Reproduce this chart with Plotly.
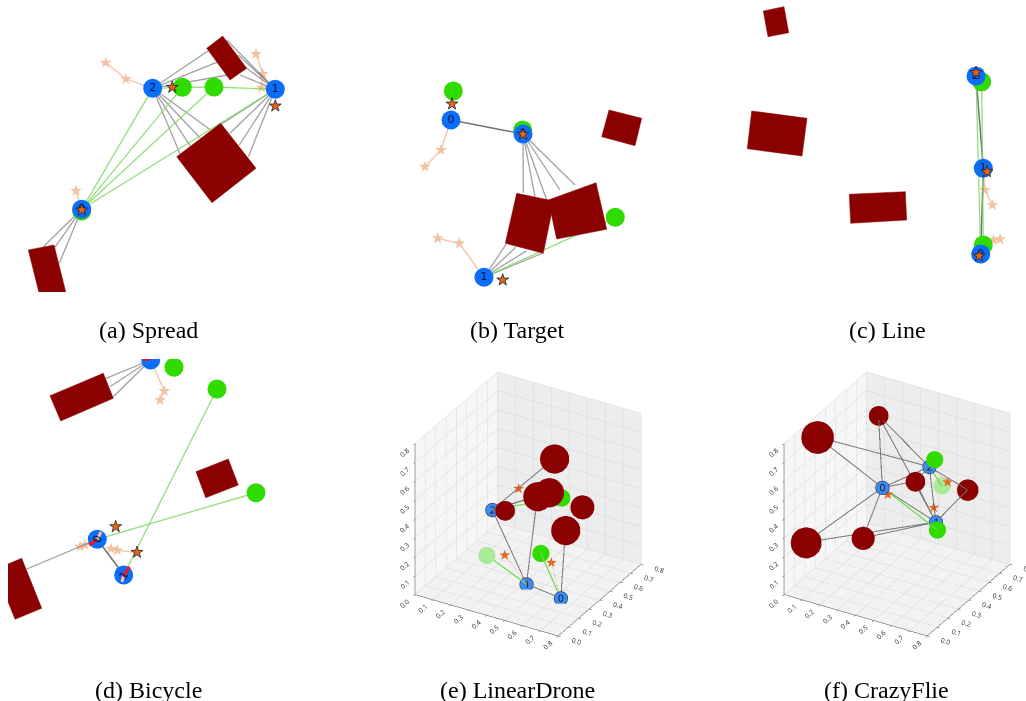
import plotly.graph_objects as go

W, H = 1026, 701
PX = 100.0  # screen pixels per world unit in the flat scenes

AGENT_BLUE = "#0a6efa"
GOAL_GREEN = "#30dc00"
OBST_RED = "#8b0000"
STAR_ORANGE = "#e4641c"
TRAIL_PEACH = "#f3c2a3"
RAY_GREY = "rgba(110,110,110,0.65)"
LINK_GREY = "rgba(90,90,90,0.85)"
LINK_GREEN = "rgba(120,215,90,0.8)"
HEAD_RED = "#ff1010"

# ---------------- (a) Spread ----------------
a_agents_x = [-0.833, 1.103, -0.123]
a_agents_y = [-0.633, 0.567, 0.577]
a_goals_x = [-0.833, 0.173, 0.490]
a_goals_y = [-0.650, 0.587, 0.590]
a_stars_x = [-0.833, 1.103, 0.073]
a_stars_y = [-0.640, 0.400, 0.587]
a_obstacles = [
    [(0.417, 0.977), (0.577, 1.100), (0.817, 0.777), (0.650, 0.660)],
    [(0.117, -0.107), (0.557, 0.227), (0.910, -0.223), (0.470, -0.567)],
    [(-1.367, -1.040), (-1.110, -0.990), (-0.960, -1.590), (-1.217, -1.640)],
]
a_rays = {
    0: [(-1.217, -1.007), (-1.110, -1.023), (-1.057, -1.173)],
    1: [(0.617, 1.060), (0.733, 0.910), (0.817, 0.777), (0.750, 0.710),
        (0.567, 0.220), (0.650, 0.127), (0.743, 0.010), (0.833, -0.107)],
    2: [(0.433, 0.953), (0.533, 0.843), (0.683, 0.720), (0.150, -0.080),
        (0.250, 0.003), (0.350, 0.083), (0.457, 0.160)],
}
a_trails = [
    ([(-0.890, -0.447)], ("A", 0)),
    ([(0.910, 0.920), (0.977, 0.720), (0.967, 0.583)], ("A", 1)),
    ([(-0.593, 0.833), (-0.390, 0.670)], ("A", 2)),
]
a_grey_links = []
a_green_links = [(("A", 0), ("A", 2)), (("A", 0), ("G", 1)), (("A", 0), ("G", 2)),
                 (("A", 0), ("A", 1)), (("A", 2), ("G", 1)), (("G", 1), ("G", 2)),
                 (("G", 2), ("A", 1))]

# ---------------- (b) Target ----------------
b_agents_x = [-0.620, -0.290, 0.100]
b_agents_y = [0.300, -1.273, 0.160]
b_goals_x = [-0.597, 0.097, 1.023]
b_goals_y = [0.590, 0.200, -0.673]
b_stars_x = [-0.610, -0.103, 0.100]
b_stars_y = [0.460, -1.300, 0.157]
b_obstacles = [
    [(0.960, 0.400), (1.287, 0.317), (1.220, 0.043), (0.887, 0.133)],
    [(0.037, -0.433), (0.410, -0.510), (0.303, -1.033), (-0.077, -0.933)],
    [(0.353, -0.500), (0.830, -0.327), (0.937, -0.793), (0.437, -0.890)],
]
b_rays = {
    1: [(-0.070, -0.943), (0.027, -0.973), (0.137, -1.007), (0.293, -1.033)],
    2: [(0.103, -0.427), (0.220, -0.467), (0.337, -0.500), (0.470, -0.400), (0.620, -0.350)],
}
b_trails = [
    ([(-0.880, -0.167), (-0.720, 0.000)], ("A", 0)),
    ([(-0.753, -0.883), (-0.537, -0.933)], ("A", 1)),
]
b_grey_links = [(("A", 0), ("A", 2))]
b_green_links = [(("A", 1), ("G", 2))]

# ---------------- (c) Line ----------------
c_agents_x = [1.257, 1.283, 1.210]
c_agents_y = [-1.040, -0.183, 0.740]
c_goals_x = [1.283, 1.267]
c_goals_y = [-0.950, 0.683]
c_stars_x = [1.240, 1.320, 1.210]
c_stars_y = [-1.060, -0.217, 0.773]
c_obstacles = [
    [(-0.917, 1.390), (-0.710, 1.433), (-0.663, 1.173), (-0.870, 1.133)],
    [(-1.033, 0.390), (-0.480, 0.317), (-0.530, -0.060), (-1.077, 0.013)],
    [(-0.057, -0.443), (0.503, -0.417), (0.517, -0.700), (-0.043, -0.733)],
]
c_rays = {}
c_trails = [
    ([(1.450, -0.893), (1.383, -0.900)], ("A", 0)),
    ([(1.373, -0.550), (1.300, -0.400)], ("A", 1)),
]
c_grey_links = [(("A", 2), ("A", 1)), (("A", 1), ("A", 0))]
c_green_links = [(("G", 1), ("G", 0)), (("A", 2), ("A", 0))]

# ---------------- (d) Bicycle ----------------
d_agents_x = [-0.707, -0.443, -0.173]
d_agents_y = [-0.343, -0.700, 1.450]
d_goals_x = [0.060, 0.490, 0.880]
d_goals_y = [1.377, 1.160, 0.123]
d_stars_x = [-0.523, -0.310]
d_stars_y = [-0.217, -0.473]
d_obstacles = [
    [(-1.180, 1.093), (-0.647, 1.317), (-0.547, 1.067), (-1.073, 0.840)],
    [(0.280, 0.333), (0.603, 0.460), (0.703, 0.200), (0.377, 0.073)],
    [(-1.730, -0.643), (-1.463, -0.533), (-1.263, -1.033), (-1.530, -1.143)],
]
d_rays = {
    0: [(-1.413, -0.640)],
    2: [(-0.620, 1.267), (-0.580, 1.183), (-0.547, 1.083)],
}
d_trails = [
    ([(-0.880, -0.417), (-0.830, -0.400)], ("A", 0)),
    ([(-0.570, -0.437), (-0.507, -0.453)], ("S", 1)),
    ([(-0.080, 1.050), (-0.037, 1.140)], ("A", 2)),
    ([], ("S", 0)),
]
d_grey_links = [(("A", 0), ("A", 1))]
d_green_links = [(("A", 1), ("G", 1)), (("A", 0), ("G", 2))]
d_heading_tail_x = [-0.787, -0.447, -0.247]
d_heading_tail_y = [-0.400, -0.717, 1.450]
d_heading_tip_x = [-0.707, -0.387, -0.173]
d_heading_tip_y = [-0.343, -0.617, 1.470]
d_wheel_tip_x = [-0.670, -0.460]
d_wheel_tip_y = [-0.270, -0.770]
d_label_angle = [-65, -60]

# ---------------- (e) LinearDrone (3-D) ----------------
e_agents = {"x": [0.646, 0.434, 0.187], "y": [0.291, 0.326, 0.423], "z": [0.02, 0.02, 0.30]}
e_obst = {"x": [0.489, 0.453, 0.489, 0.300, 0.587, 0.609],
          "y": [0.500, 0.400, 0.450, 0.350, 0.600, 0.400],
          "z": [0.618, 0.456, 0.463, 0.362, 0.341, 0.319],
          "size": [34, 34, 34, 23, 28, 34]}
e_goals = {"x": [0.463, 0.246, 0.465], "y": [0.414, 0.267, 0.613], "z": [0.15, 0.15, 0.35]}
e_goal_faded = [False, True, False]
e_stars = {"x": [0.522, 0.318, 0.301], "y": [0.413, 0.315, 0.479], "z": [0.12, 0.15, 0.42]}
e_grey_links = [("A", 2, "O", 0), ("A", 2, "O", 1), ("A", 2, "O", 2), ("A", 2, "O", 3),
                ("A", 2, "A", 1), ("A", 1, "O", 1), ("A", 0, "O", 5), ("A", 0, "A", 1)]
e_green_links = [("A", 1, "G", 1), ("A", 0, "G", 0), ("A", 2, "G", 2)]
e_star_trails = [("S", 0, "A", 0), ("S", 1, "A", 1)]

# ---------------- (f) CrazyFlie (3-D) ----------------
f_agents = {"x": [0.347, 0.588, 0.494], "y": [0.350, 0.450, 0.550], "z": [0.496, 0.332, 0.552]}
f_obst = {"x": [0.070, 0.181, 0.473, 0.609, 0.093, 0.354],
          "y": [0.200, 0.600, 0.450, 0.720, 0.050, 0.150],
          "z": [0.760, 0.714, 0.516, 0.381, 0.279, 0.326],
          "size": [38, 23, 23, 25, 36, 27]}
f_goals = {"x": [0.523, 0.535, 0.625], "y": [0.550, 0.600, 0.400], "z": [0.599, 0.440, 0.325]}
f_goal_faded = [False, True, False]
f_stars = {"x": [0.377, 0.566, 0.547], "y": [0.350, 0.600, 0.500], "z": [0.471, 0.470, 0.377]}
f_grey_links = [("A", 0, "O", 0), ("A", 0, "O", 4), ("A", 0, "O", 5), ("A", 0, "O", 2),
                ("A", 0, "O", 1), ("A", 0, "A", 2), ("A", 0, "A", 1), ("A", 2, "O", 0),
                ("A", 2, "O", 1), ("A", 2, "O", 3), ("A", 2, "O", 2), ("A", 2, "A", 1),
                ("A", 1, "O", 3), ("A", 1, "O", 5), ("A", 1, "O", 2), ("A", 1, "O", 1),
                ("A", 1, "O", 4)]
f_green_links = [("A", 0, "G", 2), ("A", 2, "G", 0), ("A", 2, "G", 1)]
f_star_trails = [("S", 1, "A", 2), ("S", 2, "A", 1)]

captions = ["(a) Spread", "(b) Target", "(c) Line", "(d) Bicycle", "(e) LinearDrone", "(f) CrazyFlie"]
caption_x = [148, 517, 887, 148, 517, 886]
caption_y = [330, 330, 330, 690, 690, 690]

fig = go.Figure()


def point(d, r):
    kind, i = r
    keys = {"A": ("ax", "ay"), "G": ("gx", "gy"), "S": ("sx", "sy")}[kind]
    return d[keys[0]][i], d[keys[1]][i]


def segments(pairs):
    xs, ys = [], []
    for (x0, y0), (x1, y1) in pairs:
        xs += [x0, x1, None]
        ys += [y0, y1, None]
    return xs, ys


def flat_panel(k, d):
    xr, yr = ("x" if k == 1 else f"x{k}"), ("y" if k == 1 else f"y{k}")
    common = dict(xaxis=xr, yaxis=yr, showlegend=False, hoverinfo="skip")

    # star trails
    for pts, end in d["trails"]:
        path = pts + [point(d, end)]
        fig.add_trace(go.Scatter(x=[p[0] for p in path], y=[p[1] for p in path], mode="lines",
                                 line=dict(color=TRAIL_PEACH, width=1.3), **common))
        if pts:
            fig.add_trace(go.Scatter(x=[p[0] for p in pts], y=[p[1] for p in pts], mode="markers",
                                     marker=dict(symbol="star", size=9, color=TRAIL_PEACH), **common))
    # sensing rays and graph edges
    ray_pairs = [((d["ax"][i], d["ay"][i]), e) for i, ends in d["rays"].items() for e in ends]
    if ray_pairs:
        xs, ys = segments(ray_pairs)
        fig.add_trace(go.Scatter(x=xs, y=ys, mode="lines", line=dict(color=RAY_GREY, width=1.3), **common))
    if d["grey"]:
        xs, ys = segments([(point(d, p), point(d, q)) for p, q in d["grey"]])
        fig.add_trace(go.Scatter(x=xs, y=ys, mode="lines", line=dict(color=LINK_GREY, width=1.5), **common))
    if d["green"]:
        xs, ys = segments([(point(d, p), point(d, q)) for p, q in d["green"]])
        fig.add_trace(go.Scatter(x=xs, y=ys, mode="lines", line=dict(color=LINK_GREEN, width=1.3), **common))
    # obstacles
    for poly in d["obst"]:
        fig.add_trace(go.Scatter(x=[p[0] for p in poly] + [poly[0][0]],
                                 y=[p[1] for p in poly] + [poly[0][1]],
                                 mode="lines", fill="toself", fillcolor=OBST_RED,
                                 line=dict(color=OBST_RED, width=0.5), **common))
    # goals
    fig.add_trace(go.Scatter(x=d["gx"], y=d["gy"], mode="markers",
                             marker=dict(size=19, color=GOAL_GREEN, line=dict(width=0)), **common))
    # agents
    labels = d.get("labels", [str(i) for i in range(len(d["ax"]))])
    fig.add_trace(go.Scatter(x=d["ax"], y=d["ay"], mode="markers+text", text=labels,
                             textposition="middle center",
                             textfont=dict(family="DejaVu Sans", size=11, color="#0b1633"),
                             marker=dict(size=19, color=AGENT_BLUE, line=dict(width=0)), **common))
    if "head" in d:
        hx, hy = segments(list(zip(zip(d["head"][0], d["head"][1]), zip(d["head"][2], d["head"][3]))))
        wx, wy = segments(list(zip(zip(d["ax"], d["ay"]), zip(d["wheel"][0], d["wheel"][1]))))
        fig.add_trace(go.Scatter(x=wx, y=wy, mode="lines", line=dict(color=TRAIL_PEACH, width=3), **common))
        fig.add_trace(go.Scatter(x=hx, y=hy, mode="lines", line=dict(color=HEAD_RED, width=3), **common))
        for i, ang in enumerate(d["angles"]):
            fig.add_annotation(x=d["ax"][i], y=d["ay"][i], xref=xr, yref=yr, text=str(i),
                               showarrow=False, textangle=ang,
                               font=dict(family="DejaVu Sans", size=11, color="#0b1633"))
    # current stars
    fig.add_trace(go.Scatter(x=d["sx"], y=d["sy"], mode="markers",
                             marker=dict(symbol="star", size=9, color=STAR_ORANGE,
                                         line=dict(color="#222222", width=0.8)), **common))


panels = [
    dict(ax=a_agents_x, ay=a_agents_y, gx=a_goals_x, gy=a_goals_y, sx=a_stars_x, sy=a_stars_y,
         obst=a_obstacles, rays=a_rays, trails=a_trails, grey=a_grey_links, green=a_green_links),
    dict(ax=b_agents_x, ay=b_agents_y, gx=b_goals_x, gy=b_goals_y, sx=b_stars_x, sy=b_stars_y,
         obst=b_obstacles, rays=b_rays, trails=b_trails, grey=b_grey_links, green=b_green_links),
    dict(ax=c_agents_x, ay=c_agents_y, gx=c_goals_x, gy=c_goals_y, sx=c_stars_x, sy=c_stars_y,
         obst=c_obstacles, rays=c_rays, trails=c_trails, grey=c_grey_links, green=c_green_links),
    dict(ax=d_agents_x, ay=d_agents_y, gx=d_goals_x, gy=d_goals_y, sx=d_stars_x, sy=d_stars_y,
         obst=d_obstacles, rays=d_rays, trails=d_trails, grey=d_grey_links, green=d_green_links,
         labels=["", "", ""],
         head=(d_heading_tail_x, d_heading_tail_y, d_heading_tip_x, d_heading_tip_y),
         wheel=(d_wheel_tip_x, d_wheel_tip_y), angles=d_label_angle),
]

# pixel boxes (left, top, right, bottom) of the flat panels
boxes = [(0, 0, 330, 292), (342, 0, 684, 300), (684, 0, 1026, 300), (8, 359, 328, 651)]

for k, (d, (l, t, r, b)) in enumerate(zip(panels, boxes), start=1):
    flat_panel(k, d)
    cx, cy = (l + r) / 2, (t + b) / 2
    sfx = "" if k == 1 else str(k)
    fig.update_layout(**{
        f"xaxis{sfx}": dict(domain=[l / W, r / W], range=[(l - cx) / PX, (r - cx) / PX],
                            visible=False, fixedrange=True, anchor=f"y{sfx}"),
        f"yaxis{sfx}": dict(domain=[1 - b / H, 1 - t / H], range=[(cy - b) / PX, (cy - t) / PX],
                            visible=False, fixedrange=True, anchor=f"x{sfx}"),
    })


def solid_panel(scene, ag, ob, go_, faded, st, grey, green, trails):
    ents = {"A": ag, "O": ob, "G": go_, "S": st}

    def seg3(links):
        xs, ys, zs = [], [], []
        for k0, i0, k1, i1 in links:
            for kk, ii in ((k0, i0), (k1, i1)):
                xs.append(ents[kk]["x"][ii]); ys.append(ents[kk]["y"][ii]); zs.append(ents[kk]["z"][ii])
            xs.append(None); ys.append(None); zs.append(None)
        return xs, ys, zs

    common = dict(scene=scene, showlegend=False, hoverinfo="skip")
    xs, ys, zs = seg3(grey)
    fig.add_trace(go.Scatter3d(x=xs, y=ys, z=zs, mode="lines",
                               line=dict(color="rgb(110,110,110)", width=2.2), opacity=0.85, **common))
    xs, ys, zs = seg3(green)
    fig.add_trace(go.Scatter3d(x=xs, y=ys, z=zs, mode="lines",
                               line=dict(color="rgb(110,220,80)", width=2.5), **common))
    xs, ys, zs = seg3(trails)
    fig.add_trace(go.Scatter3d(x=xs, y=ys, z=zs, mode="lines",
                               line=dict(color="rgb(240,150,110)", width=2, dash="dash"), **common))
    fig.add_trace(go.Scatter3d(x=ob["x"], y=ob["y"], z=ob["z"], mode="markers",
                               marker=dict(size=ob["size"], color=OBST_RED, opacity=1,
                                           line=dict(width=0)), **common))
    gcol = ["rgb(170,235,150)" if f else GOAL_GREEN for f in faded]
    fig.add_trace(go.Scatter3d(x=go_["x"], y=go_["y"], z=go_["z"], mode="markers",
                               marker=dict(size=10, color=gcol, line=dict(width=0)), **common))
    fig.add_trace(go.Scatter3d(x=ag["x"], y=ag["y"], z=ag["z"], mode="markers+text",
                               text=[str(i) for i in range(len(ag["x"]))], textposition="middle center",
                               textfont=dict(size=10, color="#111111"),
                               marker=dict(size=8, color="#3d8bf0", line=dict(color="#102040", width=1.5)),
                               **common))
    fig.add_trace(go.Scatter3d(x=st["x"], y=st["y"], z=st["z"], mode="text", text=["★"] * len(st["x"]),
                               textposition="middle center",
                               textfont=dict(size=14, color=STAR_ORANGE), **common))


solid_panel("scene", e_agents, e_obst, e_goals, e_goal_faded, e_stars,
            e_grey_links, e_green_links, e_star_trails)
solid_panel("scene2", f_agents, f_obst, f_goals, f_goal_faded, f_stars,
            f_grey_links, f_green_links, f_star_trails)

ticks = [i / 10 for i in range(9)]


def axis3(bg):
    return dict(range=[0, 0.8], tickvals=ticks, ticktext=[f"{v:.1f}" for v in ticks],
                showbackground=True, backgroundcolor=bg, gridcolor="rgb(212,212,212)",
                gridwidth=1, zeroline=False, showline=True, linecolor="#444444", linewidth=1,
                showspikes=False, title=dict(text=""), tickfont=dict(size=9, color="#333333"),
                ticks="outside", ticklen=3)


def scene_layout(x0, x1, y0, y1):
    return dict(domain=dict(x=[x0 / W, x1 / W], y=[1 - y1 / H, 1 - y0 / H]),
                xaxis=axis3("rgb(246,246,246)"), yaxis=axis3("rgb(237,237,237)"),
                zaxis=axis3("rgb(242,242,242)"),
                aspectmode="manual", aspectratio=dict(x=1.11, y=1.11, z=1.17),
                camera=dict(eye=dict(x=0.745, y=-1.29, z=0.86), up=dict(x=0, y=0, z=1),
                            center=dict(x=0, y=0, z=0), projection=dict(type="orthographic")),
                bgcolor="rgba(0,0,0,0)")


fig.update_layout(scene=scene_layout(391, 665, 355, 653), scene2=scene_layout(768, 1026, 355, 653))

for txt, x, y in zip(captions, caption_x, caption_y):
    fig.add_annotation(x=x / W, y=1 - y / H, xref="paper", yref="paper", text=txt, showarrow=False,
                       xanchor="center", yanchor="middle",
                       font=dict(family="Liberation Serif", size=24, color="black"))

fig.update_layout(width=W, height=H, margin=dict(l=0, r=0, t=0, b=0),
                  paper_bgcolor="white", plot_bgcolor="white", showlegend=False)

fig.write_html("out.html", config={"displayModeBar": False})
